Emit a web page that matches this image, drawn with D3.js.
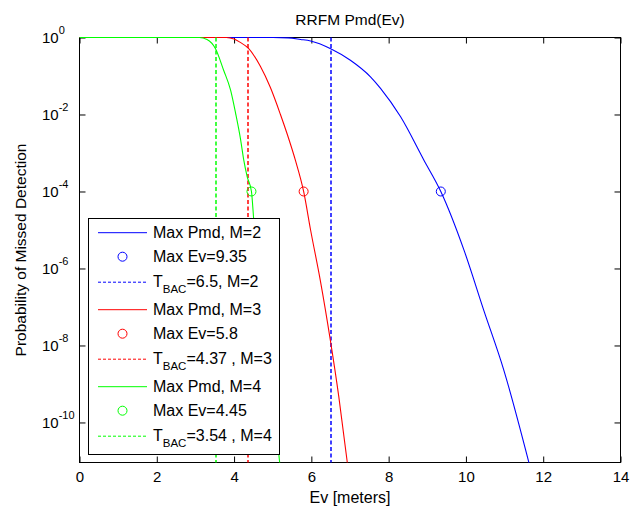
<!DOCTYPE html>
<html>
<head>
<meta charset="utf-8">
<script src="https://cdn.jsdelivr.net/npm/d3@7"></script>
<style>
  body { margin: 0; background: #fff; }
  text { font-family: "Liberation Sans", Arial, Helvetica, sans-serif; fill: #000; }
</style>
</head>
<body>
<div id="chart-area"></div>
<script>
// values
var evM2  = [0, 5.0, 5.4, 5.72, 5.98, 6.5, 7.01, 7.53, 7.79, 8.31, 8.91, 9.35, 9.95, 10.46, 10.98, 11.63];
var pmdM2 = [1, 1, 0.977, 0.891, 0.813, 0.513, 0.257, 0.0955, 0.0479, 8.7e-3, 6.6e-4, 1e-4, 3.0e-6, 8.3e-8, 2.3e-9, 9.1e-12];

var evM3  = [0, 3.8, 4.0, 4.15, 4.38, 4.68, 4.94, 5.2, 5.37, 5.59, 5.8, 5.98, 6.23, 6.49, 6.71, 6.93];
var pmdM3 = [1, 1, 0.912, 0.759, 0.513, 0.178, 0.05, 0.01, 3.2e-3, 6.3e-4, 1e-4, 1e-5, 5.0e-7, 1.4e-8, 4.7e-10, 9.1e-12];

var evM4  = [0, 3.1, 3.3, 3.52, 3.73, 3.91, 4.04, 4.17, 4.25, 4.34, 4.45, 4.51, 4.7, 4.9, 5.05, 5.18];
var pmdM4 = [1, 1, 0.891, 0.513, 0.141, 0.0427, 0.0107, 2.2e-3, 6.6e-4, 2.4e-4, 1e-4, 1.8e-5, 3.2e-7, 4.0e-9, 1.6e-10, 9.1e-12];

var maxEv  = [9.35, 5.8, 4.45];
var maxPmd = [1e-4, 1e-4, 1e-4];
var tBac   = [6.5, 4.37, 3.54];
var tBacTxt = ["6.5", "4.37 ", "3.54 "];
var mVals  = [2, 3, 4];
var colors = ["#0000ff", "#ff0000", "#00ff00"];

var xTicks = [0, 2, 4, 6, 8, 10, 12, 14];
var yTicks = [1e0, 1e-2, 1e-4, 1e-6, 1e-8, 1e-10];
var yExp   = ["0", "-2", "-4", "-6", "-8", "-10"];

var series = [
  {ev: evM2, pmd: pmdM2},
  {ev: evM3, pmd: pmdM3},
  {ev: evM4, pmd: pmdM4}
];

// ============ layout ============
var W = 639, H = 508;
var pL = 79.5, pR = 620.5, pT = 37.5, pB = 462.5;

var svg = d3.select("#chart-area")
  .append("svg")
    .attr("width", W)
    .attr("height", H);

var x = d3.scaleLinear().domain([0, 14]).range([pL, pR]);
var y = d3.scaleLog().domain([Math.pow(10, -11.04), 1]).range([pB, pT]);

// axes (drawn under data, like matlab)
var xAxis = d3.axisBottom(x).tickValues(xTicks).tickSizeInner(-6).tickSizeOuter(0).tickPadding(9);
var gx = svg.append("g")
  .attr("transform", "translate(0," + pB + ")")
  .call(xAxis);
gx.selectAll("text").attr("font-size", "15px");

svg.append("g")
  .attr("transform", "translate(0," + pT + ")")
  .call(d3.axisTop(x).tickValues(xTicks).tickSizeInner(-6).tickSizeOuter(0).tickFormat(""));

var gy = svg.append("g")
  .attr("transform", "translate(" + pL + ",0)")
  .call(d3.axisLeft(y).tickValues(yTicks).tickSizeInner(-6).tickSizeOuter(0));
gy.selectAll("text").each(function(d, i) {
  var t = d3.select(this);
  t.text(null)
    .attr("x", 42 - pL)
    .attr("text-anchor", "start")
    .attr("font-size", "15px");
  t.append("tspan").text("10");
  t.append("tspan").attr("dy", "-9").attr("font-size", "11px").text(yExp[i]);
});

svg.append("g")
  .attr("transform", "translate(" + pR + ",0)")
  .call(d3.axisRight(y).tickValues(yTicks).tickSizeInner(-6).tickSizeOuter(0).tickFormat(""));

svg.selectAll(".domain").remove();
svg.selectAll(".tick line").attr("stroke", "#000");
svg.selectAll("g").attr("font-family", null);

svg.append("rect")
  .attr("x", pL).attr("y", pT)
  .attr("width", pR - pL).attr("height", pB - pT)
  .attr("fill", "none").attr("stroke", "#000");

// clip
svg.append("clipPath").attr("id", "plotclip")
  .append("rect")
    .attr("x", pL - 1).attr("y", pT - 1)
    .attr("width", pR - pL + 2).attr("height", pB - pT + 2);

var plot = svg.append("g").attr("clip-path", "url(#plotclip)");

var line = d3.line()
  .x(function(d) { return x(d[0]); })
  .y(function(d) { return y(d[1]); })
  .curve(d3.curveMonotoneX);

series.forEach(function(s, k) {
  var pts = s.ev.map(function(v, i) { return [v, s.pmd[i]]; });
  plot.append("path")
    .datum(pts)
    .attr("d", line)
    .attr("fill", "none")
    .attr("stroke", colors[k])
    .attr("stroke-width", 1.1);

  plot.append("circle")
    .attr("cx", x(maxEv[k]))
    .attr("cy", y(maxPmd[k]))
    .attr("r", 4.5)
    .attr("fill", "none")
    .attr("stroke", colors[k]);

  plot.append("line")
    .attr("x1", Math.round(x(tBac[k]))).attr("x2", Math.round(x(tBac[k])))
    .attr("y1", pT).attr("y2", pB)
    .attr("stroke", colors[k])
    .attr("stroke-width", 1.5)
    .attr("stroke-dasharray", "4,2.5");
});

// titles
svg.append("text")
  .attr("x", (pL + pR) / 2)
  .attr("y", 25)
  .attr("text-anchor", "middle")
  .attr("font-size", "15.5px")
  .text("RRFM Pmd(Ev)");

svg.append("text")
  .attr("x", (pL + pR) / 2)
  .attr("y", 503)
  .attr("text-anchor", "middle")
  .attr("font-size", "16px")
  .text("Ev [meters]");

svg.append("text")
  .attr("transform", "translate(26," + (pT + pB) / 2 + ") rotate(-90)")
  .attr("text-anchor", "middle")
  .attr("font-size", "15.5px")
  .text("Probability of Missed Detection");

// legend
var lg = svg.append("g");
lg.append("rect")
  .attr("x", 88.5).attr("y", 218.5)
  .attr("width", 191).attr("height", 236)
  .attr("fill", "#fff").attr("stroke", "#000");

var rowOff = [0, 24, 49.5];
mVals.forEach(function(m, k) {
  var y0 = 232.7 + k * 77;
  // solid line
  lg.append("line")
    .attr("x1", 98).attr("x2", 147)
    .attr("y1", y0).attr("y2", y0)
    .attr("stroke", colors[k]);
  lg.append("text")
    .attr("x", 153).attr("y", y0 + rowOff[0]).attr("dy", "0.36em")
    .attr("font-size", "16px")
    .text("Max Pmd, M=" + m);
  // marker
  lg.append("circle")
    .attr("cx", 122.5).attr("cy", y0 + rowOff[1])
    .attr("r", 4.5).attr("fill", "none").attr("stroke", colors[k]);
  lg.append("text")
    .attr("x", 153).attr("y", y0 + rowOff[1]).attr("dy", "0.36em")
    .attr("font-size", "16px")
    .text("Max Ev=" + maxEv[k]);
  // dashed
  lg.append("line")
    .attr("x1", 98).attr("x2", 147)
    .attr("y1", y0 + rowOff[2]).attr("y2", y0 + rowOff[2])
    .attr("stroke", colors[k]).attr("stroke-dasharray", "3,2");
  var t = lg.append("text")
    .attr("x", 153).attr("y", y0 + rowOff[2]).attr("dy", "0.33em")
    .attr("font-size", "16px");
  t.append("tspan").text("T");
  t.append("tspan").attr("dy", "6").attr("font-size", "11.5px").text("BAC");
  t.append("tspan").attr("dy", "-6").text("=" + tBacTxt[k] + ", M=" + m);
});
</script>
</body>
</html>
